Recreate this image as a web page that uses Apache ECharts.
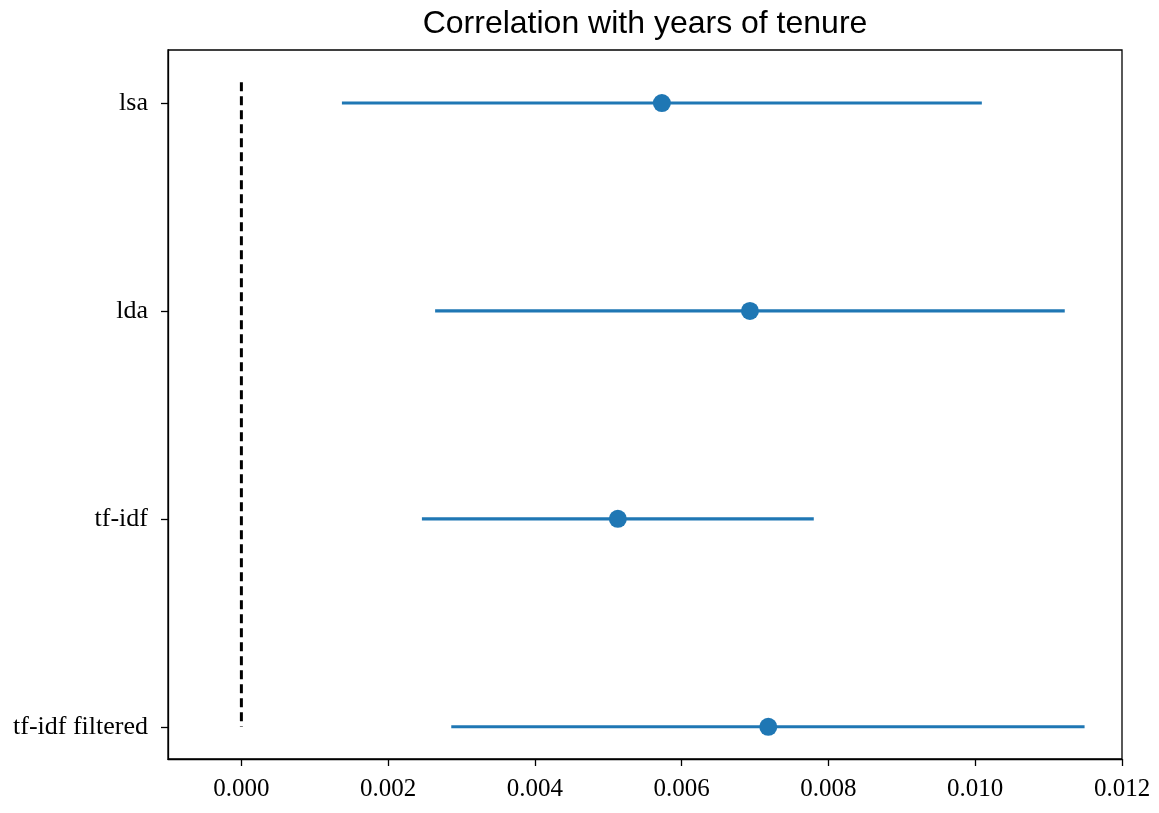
<!DOCTYPE html>
<html>
<head>
<meta charset="utf-8">
<script src="https://cdn.jsdelivr.net/npm/echarts@6/dist/echarts.min.js"></script>
<style>
  html, body { margin: 0; padding: 0; background: #fff; }
  #chart { width: 1159px; height: 813px; }
</style>
</head>
<body>
<div id="chart"></div>
<script>
// Point estimates with lower / upper interval bounds, one row per method
const methods = ['lsa', 'lda', 'tf-idf', 'tf-idf filtered'];
const estimates = [0.00573, 0.00693, 0.00513, 0.00718];
const lowerBounds = [0.00137, 0.00264, 0.00246, 0.00286];
const upperBounds = [0.01009, 0.01122, 0.00780, 0.01149];
const xTicks = [0.000, 0.002, 0.004, 0.006, 0.008, 0.010, 0.012];
const zeroLineSpan = [-0.1, 3];

const rowIdx = methods.map((_, i) => i);
const blue = '#1f77b4';
const serif = 'Liberation Serif, Times New Roman, serif';

const chart = echarts.init(document.getElementById('chart'), null, { renderer: 'canvas' });

chart.setOption({
  animation: false,
  backgroundColor: '#ffffff',
  title: {
    text: 'Correlation with years of tenure',
    left: 640, top: 3, textAlign: 'center',
    textStyle: { fontFamily: 'Liberation Sans, Arial, sans-serif', fontSize: 32, fontWeight: 'normal', color: '#000' }
  },
  grid: {
    left: 168, right: 37, top: 50, bottom: 54,
    show: true, borderColor: '#000', borderWidth: 1.3, backgroundColor: 'transparent'
  },
  xAxis: {
    type: 'value', min: -0.001, max: 0.012,
    splitLine: { show: false },
    axisLine: { show: true, onZero: false, lineStyle: { color: '#000', width: 1.3 } },
    axisTick: { show: true, customValues: xTicks, length: 7, lineStyle: { color: '#000', width: 1.3 } },
    axisLabel: {
      customValues: xTicks, margin: 18,
      formatter: v => v.toFixed(3),
      fontFamily: serif, fontSize: 25, color: '#000'
    }
  },
  yAxis: {
    type: 'value', inverse: true, min: -0.255, max: 3.155,
    splitLine: { show: false },
    axisLine: { show: true, onZero: false, lineStyle: { color: '#000', width: 1.3 } },
    axisTick: { show: true, customValues: rowIdx, length: 7, lineStyle: { color: '#000', width: 1.3 } },
    axisLabel: {
      customValues: rowIdx, margin: 20,
      formatter: v => methods[Math.round(v)],
      fontFamily: serif, fontSize: 26, color: '#000'
    }
  },
  series: [
    {
      // reference line at zero
      type: 'line',
      data: zeroLineSpan.map(y => [0, y]),
      symbol: 'none',
      lineStyle: { color: '#000', width: 3, type: [9, 5] },
      z: 1
    },
    {
      // interval bars
      type: 'custom',
      data: rowIdx.map(i => [lowerBounds[i], upperBounds[i], i]),
      encode: { x: [0, 1], y: 2 },
      renderItem: (params, api) => {
        const a = api.coord([api.value(0), api.value(2)]);
        const b = api.coord([api.value(1), api.value(2)]);
        return {
          type: 'line',
          shape: { x1: a[0], y1: a[1], x2: b[0], y2: b[1] },
          style: { stroke: blue, lineWidth: 3.2 }
        };
      },
      z: 2
    },
    {
      type: 'scatter',
      data: rowIdx.map(i => [estimates[i], i]),
      symbol: 'circle', symbolSize: 18,
      itemStyle: { color: blue, opacity: 1 },
      z: 3
    }
  ]
});
</script>
</body>
</html>
